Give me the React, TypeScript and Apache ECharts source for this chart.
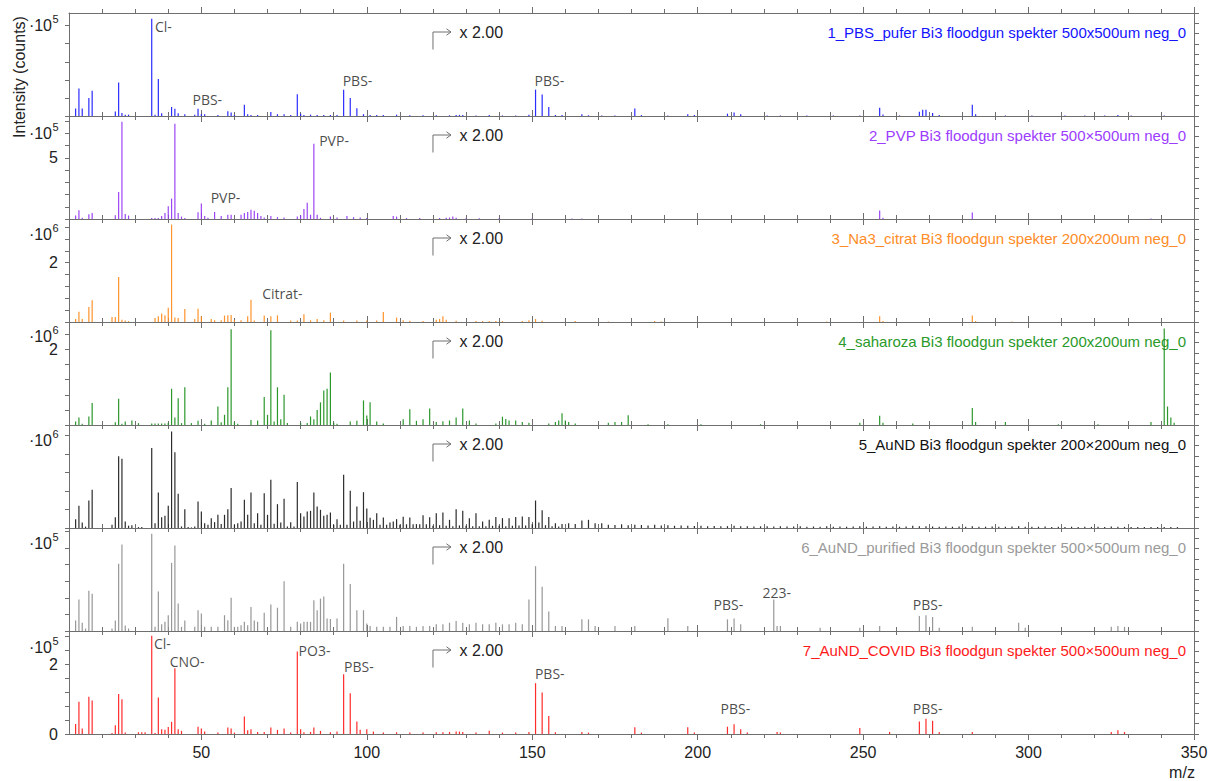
import React, { useEffect, useRef } from "react";
import * as echarts from "echarts";

// ---------- axis / layout constants ----------
const MZ_MIN = 10;
const MZ_MAX = 350;
const ZOOM_FROM = 120; // spectra are displayed magnified beyond this m/z
const ZOOM_FACTOR = 2;
const X_TICK_LABELS = [50, 100, 150, 200, 250, 300, 350];

const SAMPLE_NAMES = [
  "1_PBS_pufer Bi3 floodgun spekter 500x500um neg_0",
  "2_PVP Bi3 floodgun spekter 500×500um neg_0",
  "3_Na3_citrat Bi3 floodgun spekter 200x200um neg_0",
  "4_saharoza Bi3 floodgun spekter 200x200um neg_0",
  "5_AuND Bi3 floodgun spekter 200×200um neg_0",
  "6_AuND_purified Bi3 floodgun spekter 500×500um neg_0",
  "7_AuND_COVID Bi3 floodgun spekter 500×500um neg_0",
];
const NAME_COLORS = ["#1414ff", "#9b3cff", "#ff8c26", "#2a9a2a", "#111111", "#9a9a9a", "#ff1a1a"];
const BAR_COLORS = ["#1a1aff", "#9436f2", "#ff8a1a", "#1a8f1a", "#1a1a1a", "#8e8e8e", "#ff1a1a"];

// y axes: max, minor tick step, labelled values, power of ten of the exponent label
const Y_MAX = [1.14e5, 8.42e5, 3.47e6, 2.73e6, 1.11e6, 1.24e5, 2.96e5];
const Y_STEP = [0.2e5, 1e5, 0.4e6, 0.4e6, 0.2e6, 0.2e5, 0.4e5];
const Y_LABELS = [[], [5e5], [2e6], [2e6], [], [], [0, 2e5]];
const Y_EXP = [5, 5, 6, 6, 6, 5, 5];

// ---------- peak lists: [m/z, counts] ----------
const P1_PEAKS = [
  [12, 8200], [13, 30400], [14, 8200], [16, 20000], [17, 28000], [24, 5000], [25, 37000], [26, 3400],
  [27, 1500], [28, 1500], [35, 107500], [36, 1500], [37, 41000], [38, 3000], [41, 10000], [42, 8000],
  [43, 3000], [45, 2000], [48, 1500], [49, 7900], [50, 2000], [51, 2000], [55, 1000], [58, 5300],
  [59, 4000], [60, 1200], [63, 12500], [64, 2000], [65, 1200], [67, 1000], [71, 4500], [73, 2000],
  [75, 2000], [77, 1000], [79, 24000], [80, 2500], [81, 1000], [83, 1500], [85, 1000], [87, 1000],
  [89, 1000], [91, 1000], [93, 29000], [95, 20000], [97, 8500], [99, 2000], [101, 1000], [103, 1000],
  [105, 1000], [109, 1500], [113, 800], [117, 800], [121, 400], [125, 400], [127, 600], [128, 600],
  [129, 500], [133, 300], [137, 500], [141, 300], [145, 300], [149, 750], [151, 14600], [153, 11900],
  [155, 5000], [157, 600], [159, 500], [165, 1000], [167, 400], [171, 300], [175, 300], [181, 4100],
  [183, 500], [191, 300], [197, 1000], [199, 600], [209, 1300], [211, 2000], [213, 1000], [221, 300],
  [225, 300], [233, 300], [241, 300], [249, 300], [255, 4500], [256, 800], [261, 300], [267, 2400],
  [268, 3400], [269, 3400], [271, 1700], [273, 500], [283, 6200], [284, 1000], [293, 300], [301, 300],
  [311, 300], [317, 300], [323, 300], [327, 500], [331, 300], [341, 300],
];
const P2_PEAKS = [
  [12, 28000], [13, 71000], [14, 10000], [16, 39000], [17, 50000], [24, 30000], [25, 220000], [26, 794000],
  [27, 40000], [28, 28000], [35, 8000], [36, 8000], [37, 8000], [38, 25000], [39, 50000], [40, 104000],
  [41, 167000], [42, 778000], [43, 50000], [44, 20000], [45, 8000], [49, 55000], [50, 126000], [51, 25000],
  [52, 10000], [54, 57000], [56, 25000], [58, 35000], [59, 35000], [62, 35000], [63, 50000], [64, 57000],
  [65, 76000], [66, 68000], [67, 50000], [68, 25000], [69, 12000], [71, 25000], [73, 15000], [75, 12000],
  [79, 20000], [80, 30000], [81, 82000], [82, 132000], [83, 35000], [84, 616000], [85, 35000], [86, 10000],
  [89, 20000], [91, 12000], [94, 25000], [96, 15000], [98, 12000], [100, 8000], [108, 25000], [109, 20000],
  [112, 8000], [116, 8000], [122, 4000], [124, 5000], [125, 6000], [126, 10000], [127, 5000], [130, 3000],
  [134, 3000], [140, 3000], [150, 2000], [162, 2000], [165, 2000], [255, 35000], [256, 5000], [283, 27000],
  [337, 2000],
];
const P3_PEAKS = [
  [12, 100000], [13, 348000], [14, 100000], [16, 505000], [17, 730000], [23, 170000], [24, 170000],
  [25, 1520000], [26, 80000], [27, 50000], [28, 30000], [36, 135000], [37, 190000], [38, 290000],
  [39, 225000], [40, 483000], [41, 3280000], [42, 150000], [43, 135000], [45, 440000], [48, 100000],
  [49, 450000], [50, 190000], [53, 100000], [54, 60000], [56, 60000], [57, 215000], [58, 225000],
  [59, 235000], [60, 60000], [62, 60000], [64, 190000], [65, 753000], [66, 50000], [69, 215000],
  [71, 190000], [73, 225000], [77, 50000], [79, 50000], [81, 260000], [83, 60000], [85, 100000],
  [87, 60000], [89, 315000], [93, 50000], [97, 50000], [100, 50000], [103, 50000], [105, 340000],
  [109, 150000], [111, 60000], [113, 40000], [117, 30000], [121, 40000], [122, 50000], [123, 95000],
  [124, 40000], [127, 20000], [133, 15000], [135, 15000], [137, 15000], [139, 15000], [141, 15000],
  [147, 15000], [149, 30000], [151, 50000], [153, 20000], [163, 15000], [173, 10000], [187, 15000],
  [189, 10000], [239, 10000], [255, 95000], [256, 15000], [283, 110000], [284, 15000], [295, 10000],
];
const P4_PEAKS = [
  [12, 94000], [13, 200000], [14, 30000], [16, 226000], [17, 580000], [24, 70000], [25, 695000],
  [26, 30000], [27, 94000], [29, 120000], [31, 50000], [35, 40000], [36, 40000], [37, 40000], [38, 40000],
  [39, 40000], [40, 60000], [41, 960000], [42, 200000], [43, 712000], [44, 50000], [45, 1000000],
  [47, 50000], [49, 110000], [51, 30000], [53, 120000], [55, 491000], [56, 70000], [57, 270000],
  [58, 1000000], [59, 2540000], [60, 70000], [61, 30000], [65, 130000], [67, 120000], [69, 740000],
  [70, 270000], [71, 2510000], [72, 94000], [73, 1000000], [74, 150000], [75, 800000], [76, 50000],
  [80, 50000], [82, 50000], [83, 226000], [84, 150000], [85, 400000], [86, 600000], [87, 915000],
  [88, 960000], [89, 1390000], [90, 60000], [91, 30000], [95, 94000], [97, 110000], [99, 652000],
  [100, 250000], [101, 600000], [103, 94000], [105, 40000], [111, 150000], [113, 418000], [115, 110000],
  [117, 150000], [119, 437000], [121, 40000], [123, 50000], [125, 60000], [127, 100000], [129, 218000],
  [131, 60000], [133, 20000], [139, 20000], [141, 110000], [142, 80000], [143, 60000], [145, 60000],
  [147, 40000], [149, 30000], [155, 20000], [157, 40000], [158, 60000], [159, 157000], [160, 60000],
  [161, 40000], [163, 20000], [173, 30000], [175, 40000], [177, 40000], [179, 130000], [185, 10000],
  [191, 10000], [201, 10000], [219, 10000], [249, 30000], [255, 123000], [256, 30000], [265, 20000],
  [283, 224000], [284, 40000], [293, 40000], [309, 10000], [321, 10000], [337, 40000], [341, 1280000],
  [342, 245000], [343, 100000], [344, 30000],
];
const P5_PEAKS = [
  [12, 95000], [13, 240000], [14, 60000], [15, 15000], [16, 296000], [17, 412000], [23, 35000],
  [24, 117000], [25, 772000], [26, 746000], [27, 70000], [28, 25000], [29, 30000], [31, 10000],
  [32, 10000], [35, 861000], [36, 50000], [37, 383000], [38, 117000], [39, 131000], [40, 240000],
  [41, 1040000], [42, 815000], [43, 368000], [44, 17000], [45, 203000], [46, 10000], [47, 6000],
  [48, 17000], [49, 286000], [50, 178000], [51, 50000], [52, 35000], [53, 106000], [54, 63000],
  [55, 142000], [56, 42000], [57, 142000], [58, 203000], [59, 430000], [60, 35000], [61, 52000],
  [62, 70000], [63, 304000], [64, 142000], [65, 383000], [66, 52000], [67, 160000], [68, 35000],
  [69, 375000], [70, 142000], [71, 520000], [72, 45000], [73, 257000], [74, 60000], [75, 315000],
  [76, 17000], [77, 63000], [78, 17000], [79, 495000], [80, 160000], [81, 125000], [82, 178000],
  [83, 185000], [84, 383000], [85, 232000], [86, 196000], [87, 131000], [88, 142000], [89, 167000],
  [90, 35000], [91, 95000], [92, 35000], [93, 574000], [94, 35000], [95, 401000], [96, 70000],
  [97, 232000], [98, 77000], [99, 386000], [100, 210000], [101, 110000], [102, 88000], [103, 160000],
  [104, 35000], [105, 113000], [106, 35000], [107, 60000], [108, 70000], [109, 95000], [110, 35000],
  [111, 120000], [112, 40000], [113, 113000], [114, 40000], [115, 42000], [116, 40000], [117, 138000],
  [118, 40000], [119, 117000], [120, 12000], [121, 80000], [122, 15000], [123, 83000], [124, 12000],
  [125, 44000], [126, 10000], [127, 101000], [128, 14000], [129, 93000], [130, 12000], [131, 53000],
  [132, 10000], [133, 80000], [134, 10000], [135, 35000], [136, 10000], [137, 44000], [138, 12000],
  [139, 59000], [140, 12000], [141, 53000], [142, 10000], [143, 53000], [144, 12000], [145, 59000],
  [146, 14000], [147, 62000], [148, 14000], [149, 59000], [150, 20000], [151, 148000], [152, 30000],
  [153, 95000], [154, 15000], [155, 59000], [156, 10000], [157, 26000], [158, 8000], [159, 21000],
  [161, 26000], [163, 21000], [165, 40000], [167, 44000], [169, 26000], [171, 26000], [173, 18000],
  [175, 16000], [177, 20000], [179, 15000], [181, 18000], [183, 16000], [185, 14000], [187, 17000],
  [189, 13000], [191, 15000], [193, 12000], [195, 14000], [197, 12000], [199, 11000], [201, 12000],
  [203, 10000], [205, 11000], [207, 9000], [209, 10000], [211, 12000], [213, 9000], [215, 10000],
  [217, 8000], [219, 9000], [221, 10000], [223, 8000], [225, 9000], [227, 8000], [229, 8000],
  [231, 9000], [233, 7000], [235, 8000], [237, 7000], [239, 9000], [241, 7000], [243, 8000],
  [245, 7000], [247, 8000], [249, 10000], [251, 7000], [253, 8000], [255, 9000], [257, 7000],
  [259, 8000], [261, 7000], [263, 8000], [265, 12000], [267, 10000], [269, 9000], [271, 8000],
  [273, 7000], [275, 8000], [277, 7000], [279, 8000], [281, 7000], [283, 9000], [285, 7000],
  [287, 7000], [289, 8000], [291, 7000], [293, 7000], [295, 8000], [297, 9000], [299, 7000],
  [301, 7000], [303, 7000], [305, 8000], [307, 6000], [309, 7000], [311, 6000], [313, 7000],
  [315, 6000], [317, 7000], [319, 6000], [321, 7000], [323, 6000], [325, 8000], [327, 7000],
  [329, 6000], [331, 6000], [333, 6000], [335, 6000], [337, 6000], [339, 5000], [341, 6000],
  [343, 5000], [345, 5000],
];
const P6_PEAKS = [
  [12, 12500], [13, 38000], [14, 10000], [15, 3000], [16, 48600], [17, 44700], [23, 3000], [24, 12500],
  [25, 81000], [26, 104000], [27, 6500], [28, 3000], [35, 117000], [36, 5000], [37, 47500], [38, 8000],
  [39, 11000], [40, 19000], [41, 82000], [42, 103000], [43, 33000], [44, 5000], [45, 12500], [48, 5000],
  [49, 25000], [50, 21000], [51, 5000], [53, 5000], [55, 5000], [57, 19000], [58, 13000], [59, 40000],
  [60, 5000], [61, 5000], [62, 7000], [63, 11000], [64, 7000], [65, 29000], [66, 12500], [67, 11000],
  [69, 22000], [71, 32000], [73, 28000], [75, 60000], [77, 5000], [79, 11000], [80, 9000], [81, 11000],
  [82, 11000], [83, 11000], [84, 37000], [85, 25000], [86, 39000], [87, 41500], [88, 15000], [89, 14500],
  [91, 15000], [93, 81000], [95, 56600], [97, 25000], [99, 25000], [100, 9000], [101, 6000], [103, 5000],
  [105, 5000], [107, 5000], [109, 17000], [111, 6000], [113, 6000], [115, 5000], [117, 6000], [119, 6000],
  [121, 4000], [123, 4000], [125, 5000], [127, 6000], [129, 5000], [131, 4000], [133, 5000], [135, 4000],
  [137, 4000], [139, 5000], [141, 4000], [143, 4000], [145, 5000], [147, 4000], [149, 19000], [151, 39000],
  [153, 26600], [155, 11700], [157, 3000], [159, 3000], [165, 7000], [167, 7000], [169, 3000], [175, 3000],
  [181, 3000], [191, 7700], [197, 3000], [209, 7000], [211, 7500], [213, 4000], [223, 19000], [224, 3000],
  [225, 3000], [237, 2000], [249, 2000], [255, 3000], [267, 9000], [269, 9500], [271, 8500], [273, 2000],
  [283, 2500], [297, 5000], [299, 2000], [325, 2500], [327, 3000], [329, 2500],
];
const P7_PEAKS = [
  [12, 29000], [13, 93000], [14, 16000], [16, 107000], [17, 96000], [23, 3000], [24, 25000], [25, 115000],
  [26, 100000], [27, 4000], [31, 5000], [32, 5000], [33, 5000], [35, 282000], [36, 3000], [37, 105000],
  [38, 14000], [39, 12000], [40, 20000], [41, 35000], [42, 189000], [43, 14000], [44, 9000], [49, 21000],
  [50, 16000], [51, 7000], [55, 4000], [58, 19000], [59, 16000], [60, 4000], [63, 50000], [64, 11000],
  [65, 14000], [67, 6000], [69, 6000], [71, 19000], [73, 12000], [75, 16000], [77, 4000], [79, 237000],
  [80, 14000], [81, 5000], [83, 6000], [84, 19000], [86, 9000], [89, 5000], [91, 7000], [93, 172000],
  [95, 117000], [97, 36000], [98, 12000], [100, 14000], [102, 7000], [105, 4000], [109, 5000], [113, 4000],
  [117, 4000], [121, 2500], [123, 2500], [125, 3000], [127, 3500], [128, 3500], [129, 3000], [133, 2000],
  [137, 4500], [141, 2000], [145, 2000], [149, 3000], [151, 73000], [153, 59500], [155, 26000], [157, 2500],
  [165, 3000], [167, 2000], [181, 9600], [183, 2000], [197, 9600], [199, 2000], [209, 10500], [211, 14000],
  [213, 7000], [215, 2000], [224, 3000], [225, 2000], [249, 8600], [258, 3000], [267, 17800], [269, 22000],
  [271, 19000], [273, 3000], [283, 3000], [325, 3000], [327, 5500], [329, 3000],
];
const PEAKS = [P1_PEAKS, P2_PEAKS, P3_PEAKS, P4_PEAKS, P5_PEAKS, P6_PEAKS, P7_PEAKS];

// peak annotations: panel index, text, label centre (m/z, displayed counts)
const ANNOTATIONS = [
  { panel: 0, text: "Cl-", mz: 38.5, y: 99000 },
  { panel: 0, text: "PBS-", mz: 51.8, y: 18000 },
  { panel: 0, text: "PBS-", mz: 97.2, y: 39000 },
  { panel: 0, text: "PBS-", mz: 155.2, y: 39000 },
  { panel: 1, text: "PVP-", mz: 57.3, y: 178000 },
  { panel: 1, text: "PVP-", mz: 90.1, y: 644000 },
  { panel: 2, text: "Citrat-", mz: 74.5, y: 954000 },
  { panel: 5, text: "PBS-", mz: 209.3, y: 31500 },
  { panel: 5, text: "223-", mz: 223.9, y: 46800 },
  { panel: 5, text: "PBS-", mz: 269.5, y: 32000 },
  { panel: 6, text: "Cl-", mz: 38.2, y: 261000 },
  { panel: 6, text: "CNO-", mz: 45.7, y: 208000 },
  { panel: 6, text: "PO3-", mz: 84.2, y: 240000 },
  { panel: 6, text: "PBS-", mz: 97.6, y: 194000 },
  { panel: 6, text: "PBS-", mz: 155.3, y: 175000 },
  { panel: 6, text: "PBS-", mz: 211.4, y: 72000 },
  { panel: 6, text: "PBS-", mz: 269.5, y: 72000 },
];

// ---------- layout ----------
const LEFT = 69;
const RIGHT_EDGE = 1194;
const TOP0 = 13;
const PANEL_H = 103;
const EXP_OFFSET = [12.5, 17, 15.5, 14.5, 15, 15, 16];
const AXIS_COLOR = "#6e6e6e";
const TEXT_COLOR = "#222222";
const FONT = "'Liberation Sans', Arial, sans-serif";

function buildOption() {
  const grids: any[] = [];
  const xAxes: any[] = [];
  const yAxes: any[] = [];
  const series: any[] = [];
  const graphics: any[] = [];
  const minorVals: number[] = [];
  for (let v = MZ_MIN + 10; v < MZ_MAX; v += 10) if (v % 50 !== 0) minorVals.push(v);
  const majorVals = X_TICK_LABELS.slice();
  const lineStyle = { color: AXIS_COLOR, width: 1 };
  const zoomX = LEFT + ((ZOOM_FROM - MZ_MIN) / (MZ_MAX - MZ_MIN)) * (RIGHT_EDGE - LEFT);

  PEAKS.forEach((peaks, i) => {
    const top = TOP0 + i * PANEL_H;
    grids.push({ left: LEFT, top, width: RIGHT_EDGE - LEFT, height: PANEL_H, containLabel: false });
    const base = {
      type: "value",
      gridIndex: i,
      min: MZ_MIN,
      max: MZ_MAX,
      splitLine: { show: false },
      axisLine: { show: true, onZero: false, lineStyle },
    };
    const last = i === PEAKS.length - 1;
    xAxes.push({
      ...base,
      position: "bottom",
      axisTick: { show: true, length: 6, customValues: majorVals, lineStyle },
      axisLabel: last
        ? { show: true, customValues: X_TICK_LABELS, fontSize: 16, color: TEXT_COLOR, fontFamily: FONT, margin: 10 }
        : { show: false },
    });
    xAxes.push({
      ...base,
      position: "bottom",
      axisLine: { show: false, onZero: false },
      axisTick: { show: true, length: 4, customValues: minorVals, lineStyle },
      axisLabel: { show: false },
    });
    xAxes.push({
      ...base,
      position: "top",
      axisTick: { show: true, length: 6, customValues: majorVals, lineStyle },
      axisLabel: { show: false },
    });
    xAxes.push({
      ...base,
      position: "top",
      axisLine: { show: false, onZero: false },
      axisTick: { show: true, length: 4, customValues: minorVals, lineStyle },
      axisLabel: { show: false },
    });

    const yTicks: number[] = [];
    for (let k = 0; k * Y_STEP[i] <= Y_MAX[i] + 1e-6; k++) yTicks.push(k * Y_STEP[i]);
    const pow = Math.pow(10, Y_EXP[i]);
    yAxes.push({
      type: "value",
      gridIndex: i,
      position: "left",
      min: 0,
      max: Y_MAX[i],
      splitLine: { show: false },
      axisLine: { show: true, onZero: false, lineStyle },
      axisTick: { show: true, length: 4, customValues: yTicks, lineStyle },
      axisLabel: {
        show: Y_LABELS[i].length > 0,
        customValues: Y_LABELS[i],
        formatter: (v: number) => String(Math.round(v / pow)),
        fontSize: 16,
        color: TEXT_COLOR,
        fontFamily: FONT,
        margin: 11,
      },
    });
    yAxes.push({
      type: "value",
      gridIndex: i,
      position: "right",
      min: 0,
      max: 10,
      interval: 1,
      splitLine: { show: false },
      axisLine: { show: true, onZero: false, lineStyle },
      axisTick: { show: true, length: 5, lineStyle },
      axisLabel: { show: false },
    });

    series.push({
      type: "bar",
      name: SAMPLE_NAMES[i],
      xAxisIndex: 4 * i,
      yAxisIndex: 2 * i,
      barWidth: 1.2,
      silent: true,
      itemStyle: { color: BAR_COLORS[i], opacity: 0.92 },
      data: peaks.map(([mz, v]) => [mz, mz >= ZOOM_FROM ? v * ZOOM_FACTOR : v]),
    });

    const ann = ANNOTATIONS.filter((a) => a.panel === i);
    if (ann.length) {
      series.push({
        type: "scatter",
        xAxisIndex: 4 * i,
        yAxisIndex: 2 * i,
        symbolSize: 1,
        silent: true,
        itemStyle: { color: "rgba(0,0,0,0)" },
        label: {
          show: true,
          position: "inside",
          formatter: "{b}",
          fontFamily: "'Open Sans', sans-serif",
          fontSize: 14,
          color: "#1a1a1a",
        },
        data: ann.map((a) => ({ name: a.text, value: [a.mz, a.y] })),
      });
    }

    // exponent label of the y axis
    const ey = top + EXP_OFFSET[i];
    graphics.push({
      type: "text",
      x: 52,
      y: ey,
      style: { text: "·10", font: `16px ${FONT}`, fill: TEXT_COLOR, align: "right", textAlign: "right", verticalAlign: "middle", textVerticalAlign: "middle" },
    });
    graphics.push({
      type: "text",
      x: 52.5,
      y: ey - 6.5,
      style: { text: String(Y_EXP[i]), font: `11px ${FONT}`, fill: TEXT_COLOR, align: "left", textAlign: "left", verticalAlign: "middle", textVerticalAlign: "middle" },
    });
    // magnification marker
    graphics.push({
      type: "polyline",
      shape: { points: [[zoomX, top + 36.5], [zoomX, top + 19], [zoomX + 18, top + 19]] },
      style: { stroke: "#707070", lineWidth: 1, fill: null },
    });
    graphics.push({
      type: "polyline",
      shape: { points: [[zoomX + 13.5, top + 15.8], [zoomX + 18, top + 19], [zoomX + 13.5, top + 22.2]] },
      style: { stroke: "#707070", lineWidth: 1, fill: null },
    });
    graphics.push({
      type: "text",
      x: zoomX + 26.5,
      y: top + 19,
      style: { text: "x " + ZOOM_FACTOR.toFixed(2), font: `16px ${FONT}`, fill: TEXT_COLOR, align: "left", textAlign: "left", verticalAlign: "middle", textVerticalAlign: "middle" },
    });
    // sample name
    graphics.push({
      type: "text",
      x: RIGHT_EDGE - 8,
      y: top + 19,
      style: { text: SAMPLE_NAMES[i], font: `15px ${FONT}`, fill: NAME_COLORS[i], align: "right", textAlign: "right", verticalAlign: "middle", textVerticalAlign: "middle" },
    });
  });

  graphics.push({
    type: "text",
    x: 19,
    y: 77,
    rotation: Math.PI / 2,
    style: { text: "Intensity (counts)", font: `16px ${FONT}`, fill: TEXT_COLOR, align: "center", textAlign: "center", verticalAlign: "middle", textVerticalAlign: "middle" },
  });
  graphics.push({
    type: "text",
    x: 1182,
    y: 772,
    style: { text: "m/z", font: `16px ${FONT}`, fill: TEXT_COLOR, align: "center", textAlign: "center", verticalAlign: "middle", textVerticalAlign: "middle" },
  });

  return {
    animation: false,
    backgroundColor: "#ffffff",
    textStyle: { fontFamily: FONT },
    grid: grids,
    xAxis: xAxes,
    yAxis: yAxes,
    series,
    graphic: { elements: graphics },
  };
}

export default function App() {
  const ref = useRef<HTMLDivElement>(null);
  useEffect(() => {
    if (!ref.current) return;
    const chart = echarts.init(ref.current, null, { renderer: "svg" });
    chart.setOption(buildOption() as any);
    return () => chart.dispose();
  }, []);
  return (
    <div
      ref={ref}
      style={{ position: "fixed", left: 0, top: 0, width: 1219, height: 781, background: "#fff" }}
    />
  );
}
